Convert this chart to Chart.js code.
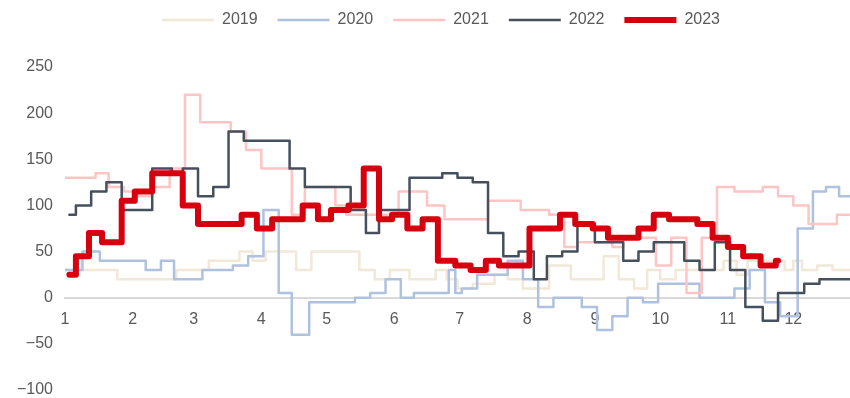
<!DOCTYPE html>
<html>
<head>
<meta charset="utf-8">
<script src="https://cdn.jsdelivr.net/npm/chart.js@4"></script>
<style>
  html, body { margin: 0; padding: 0; background: #fff; }
  #wrap { width: 850px; height: 398px; position: relative; }
</style>
</head>
<body>
<div id="wrap"><canvas id="chart"></canvas></div>
<script>
// x axis: day of year, labelled by month number at month starts
const monthStarts = [1, 32, 60, 91, 121, 152, 182, 213, 244, 274, 305, 335];
const monthLabels = ['1', '2', '3', '4', '5', '6', '7', '8', '9', '10', '11', '12'];
const years = ['2019', '2020', '2021', '2022', '2023'];

// each series: day where the level changes, and the new level
const days2019 = [1, 25, 52, 67, 81, 87, 93, 107, 114, 136, 143, 150, 159, 171, 176, 181, 188, 198, 204, 211, 223, 233, 248, 255, 262, 268, 274, 281, 303, 309, 314, 331, 335, 339, 346, 353];
const vals2019 = [30, 20, 30, 40, 50, 40, 50, 30, 50, 30, 20, 30, 20, 30, 20, 10, 15, 25, 20, 10, 35, 20, 45, 20, 10, 30, 20, 30, 40, 25, 40, 30, 40, 30, 35, 30];

const days2020 = [1, 9, 17, 38, 45, 51, 64, 78, 85, 92, 99, 105, 113, 134, 141, 148, 155, 161, 177, 180, 183, 190, 204, 211, 218, 225, 238, 245, 252, 259, 266, 273, 292, 308, 315, 322, 329, 337, 344, 350, 356];
const vals2020 = [30, 50, 40, 30, 40, 20, 30, 35, 45, 95, 5, -40, -5, 0, 5, 20, 0, 5, 30, 5, 10, 25, 40, 20, -10, 0, -10, -35, -20, 0, -5, 15, 0, 10, 30, -5, -20, 75, 115, 120, 110];

const days2021 = [1, 15, 21, 28, 34, 41, 49, 56, 63, 77, 84, 91, 105, 111, 125, 130, 154, 167, 175, 195, 210, 223, 230, 236, 252, 257, 272, 279, 286, 293, 300, 308, 321, 328, 335, 342, 355];
const vals2021 = [130, 135, 120, 115, 110, 120, 140, 220, 190, 180, 160, 140, 90, 120, 100, 90, 115, 100, 85, 105, 95, 90, 55, 60, 55, 65, 35, 65, 5, 65, 120, 115, 120, 110, 100, 80, 90];

const days2022 = [3, 6, 13, 20, 27, 41, 50, 55, 62, 69, 76, 83, 104, 111, 132, 139, 145, 159, 174, 181, 188, 195, 202, 209, 216, 222, 229, 236, 244, 257, 264, 271, 285, 292, 299, 306, 313, 321, 328, 340, 347];
const vals2022 = [90, 100, 115, 125, 95, 140, 135, 140, 110, 120, 180, 170, 140, 120, 95, 70, 95, 130, 135, 130, 125, 70, 45, 50, 20, 45, 50, 80, 60, 40, 50, 60, 40, 30, 60, 30, -10, -25, 5, 15, 20];

const days2023 = [3, 6, 12, 18, 27, 33, 41, 55, 62, 82, 89, 96, 110, 117, 123, 131, 138, 145, 151, 158, 165, 172, 180, 187, 194, 200, 214, 228, 235, 243, 250, 264, 271, 278, 291, 298, 305, 312, 320, 327];
const vals2023 = [25, 45, 70, 60, 105, 115, 135, 100, 80, 90, 75, 85, 100, 85, 95, 100, 140, 85, 90, 75, 85, 40, 35, 30, 40, 35, 75, 90, 80, 75, 65, 75, 90, 85, 80, 65, 55, 45, 35, 40];

const endDays = [361, 361, 361, 361, 328];

const FONT = "'Liberation Sans', Arial, sans-serif";
const TEXT = '#595959';

function toPoints(days, vals, end) {
    const pts = days.map((d, i) => ({ x: d, y: vals[i] }));
    pts.push({ x: end, y: vals[vals.length - 1] });
    return pts;
}

const series = [
    [days2019, vals2019, '#F1E8D8', 2.5],
    [days2020, vals2020, '#AEC2E0', 2.5],
    [days2021, vals2021, '#FFC4C4', 2.5],
    [days2022, vals2022, '#46505D', 2.5],
    [days2023, vals2023, '#D7000F', 6]
];

const datasets = series.map(([d, v, color, w], i) => ({
    label: years[i],
    data: toPoints(d, v, endDays[i]),
    borderColor: color,
    backgroundColor: color,
    borderWidth: w,
    borderCapStyle: 'round',
    borderJoinStyle: 'round',
    stepped: true,
    pointRadius: 0,
    fill: false,
    order: years.length - i
}));

// pin the legend to the top edge and nudge it right, as in the original
const legendShift = {
    id: 'legendShift',
    afterLayout(chart) {
        const lg = chart.legend;
        const h = lg.bottom - lg.top;
        lg.top = -8;
        lg.bottom = h - 8;
        lg.left += 16;
        lg.right += 16;
    }
};

new Chart(document.getElementById('chart'), {
    type: 'line',
    data: { datasets },
    plugins: [legendShift],
    options: {
        responsive: true,
        maintainAspectRatio: false,
        animation: false,
        events: [],
        layout: { padding: 0 },
        plugins: {
            tooltip: { enabled: false },
            legend: {
                position: 'top',
                labels: {
                    usePointStyle: true,
                    pointStyle: 'line',
                    pointStyleWidth: 52,
                    padding: 20,
                    color: TEXT,
                    font: { family: FONT, size: 16 },
                    sort: (a, b) => a.datasetIndex - b.datasetIndex
                }
            }
        },
        scales: {
            x: {
                type: 'linear',
                position: { y: 0 },
                min: 1,
                max: 361,
                afterBuildTicks: (scale) => {
                    scale.ticks = monthStarts.map(value => ({ value }));
                },
                afterFit: (scale) => {
                    scale.height = 0;
                    scale.paddingLeft = 0;
                    scale.paddingRight = 0;
                },
                ticks: {
                    autoSkip: false,
                    maxRotation: 0,
                    padding: 12,
                    color: TEXT,
                    font: { family: FONT, size: 16 },
                    callback: (v, i) => monthLabels[i]
                },
                grid: { display: true, color: 'rgba(0,0,0,0)', drawTicks: false },
                border: { display: true, color: '#D9D9D9', width: 2 }
            },
            y: {
                min: -100,
                max: 250,
                afterFit: (scale) => {
                    scale.width = 65;
                    scale.paddingTop = 67;
                    scale.paddingBottom = 8;
                },
                ticks: {
                    stepSize: 50,
                    padding: 12,
                    color: TEXT,
                    font: { family: FONT, size: 16 },
                    callback: (v) => v < 0 ? '\u2212' + Math.abs(v) : String(v)
                },
                grid: { display: false, drawTicks: false },
                border: { display: false }
            }
        }
    }
});
</script>
</body>
</html>
